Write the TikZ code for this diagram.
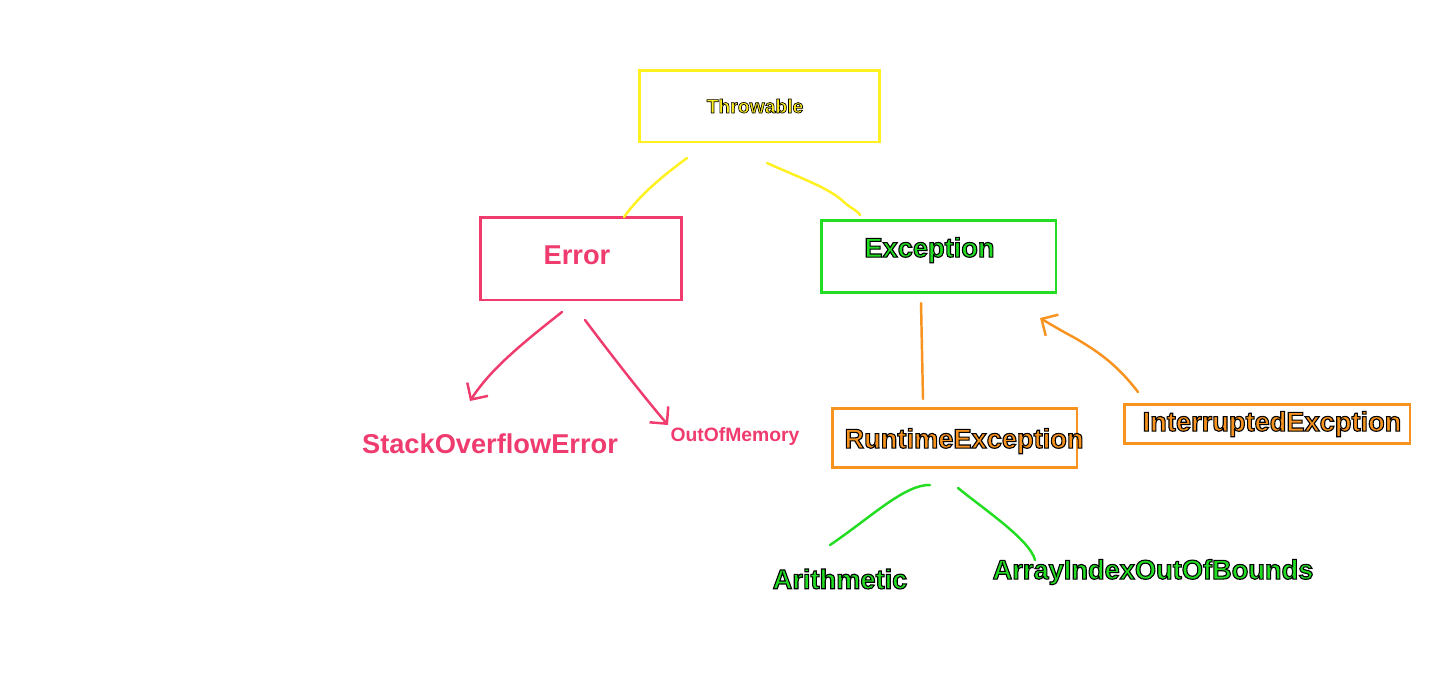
\documentclass[tikz,border=0pt]{standalone}
\usepackage{fontspec}
\setmainfont{Liberation Sans}
\newfontfamily\obf[FakeBold=4]{Liberation Sans Bold}
\newfontfamily\obfs[FakeBold=3.5]{Liberation Sans Bold}
\usetikzlibrary{arrows.meta}
\definecolor{ylw}{HTML}{FFF01F}
\definecolor{pnk}{HTML}{EF3B6E}
\definecolor{grn}{HTML}{22DD22}
\definecolor{org}{HTML}{F7931E}
\tikzset{
  box/.style={draw, line width=1.7pt, inner sep=0pt},
  lbl/.style={font=\bfseries\fontsize{15.5}{17}\selectfont, inner sep=0pt},
  small/.style={font=\bfseries\fontsize{11}{13}\selectfont, inner sep=0pt},
  olbl/.style={font=\obf\fontsize{15.5}{17}\selectfont, inner sep=0pt},
  osmall/.style={font=\obfs\fontsize{11}{13}\selectfont, inner sep=0pt},
  link/.style={line width=1.4pt, line cap=round},
  tip/.style={-{Straight Barb[length=7pt,width=14pt,line width=1.4pt]}}
}
\newcommand{\outl}[1]{\special{pdf:literal direct 0 0 0 RG}#1}
\begin{document}
\begin{tikzpicture}[x=0.02cm,y=-0.02cm]
\useasboundingbox (0,0) rectangle (1432,681);
\fill[white] (0,0) rectangle (1432,681);
% boxes
\node[box, draw=ylw, minimum width=4.82cm, minimum height=1.44cm] (thr) at (759.5,106) {};
\node[box, draw=pnk, minimum width=4.04cm, minimum height=1.66cm] (err) at (581,258.5) {};
\node[box, draw=grn, minimum width=4.70cm, minimum height=1.44cm] (exc) at (938.5,256) {};
\node[box, draw=org, minimum width=4.90cm, minimum height=1.18cm] (rte) at (954.5,437.5) {};
\node[box, draw=org, minimum width=5.72cm, minimum height=0.78cm] (ine) at (1267,423.5) {};
% texts
\node[osmall, text=ylw] (tthr) at (755,106) {\outl{Throwable}};
\node[lbl, text=pnk] (terr) at (577,255) {Error};
\node[olbl, text=grn] (texc) at (929.5,250) {\outl{Exception}};
\node[olbl, text=org] (trte) at (964,441) {\outl{RuntimeException}};
\node[olbl, text=org] (tine) at (1272,424) {\outl{InterruptedExcption}};
\node[lbl, text=pnk] (soe) at (490,444) {StackOverflowError};
\node[small, text=pnk] (oom) at (735,436) {OutOfMemory};
\node[olbl, text=grn] (ari) at (840,579) {\outl{Arithmetic}};
\node[olbl, text=grn] (aio) at (1153,572) {\outl{ArrayIndexOutOfBounds}};
% connector end points
\coordinate (y1a) at (687,158); \coordinate (y1b) at (624,217);
\coordinate (y2a) at (767,163); \coordinate (y2b) at (860,215);
\coordinate (p1a) at (562,312); \coordinate (p1b) at (470,401);
\coordinate (p2a) at (585,320); \coordinate (p2b) at (668,425);
\coordinate (o1a) at (921,303); \coordinate (o1b) at (923,399);
\coordinate (o2a) at (1138,392); \coordinate (o2b) at (1040,318);
\coordinate (g1a) at (930,485); \coordinate (g1b) at (830,545);
\coordinate (g2a) at (958,488); \coordinate (g2b) at (1035,560);
% connectors
\draw[link, ylw] (y1a) .. controls (660,178) and (640,195) .. (y1b);
\draw[link, ylw] (y2a) .. controls (800,178) and (830,188) .. (845,203) .. controls (852,209) and (858,211) .. (y2b);
\draw[link, pnk, tip] (p1a) .. controls (520,345) and (490,370) .. (p1b);
\draw[link, pnk, tip] (p2a) .. controls (615,360) and (645,398) .. (p2b);
\draw[link, org] (o1a) -- (o1b);
\draw[link, org, tip] (o2a) .. controls (1115,362) and (1095,350) .. (1075,338) .. controls (1060,330) and (1050,324) .. (o2b);
\draw[link, grn] (g1a) .. controls (905,484) and (870,518) .. (g1b);
\draw[link, grn] (g2a) .. controls (985,510) and (1030,540) .. (g2b);
\end{tikzpicture}
\end{document}
